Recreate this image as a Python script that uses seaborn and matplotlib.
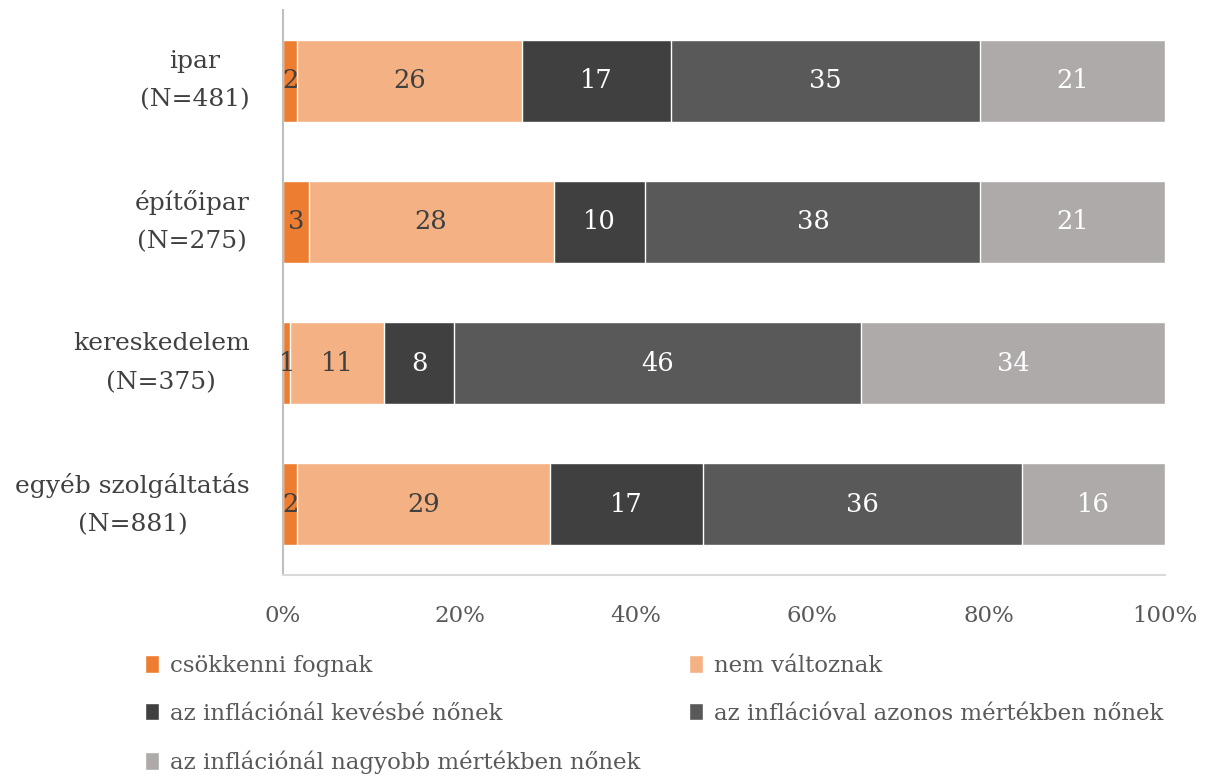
import numpy as np
import pandas as pd
import seaborn as sns
from matplotlib import pyplot as plt
from matplotlib.patches import Patch

# categories (y axis) and series
categories = ['ipar\n(N=481)', 'építőipar\n(N=275)', 'kereskedelem\n(N=375)',
              'egyéb szolgáltatás\n(N=881)']
series_names = ['csökkenni fognak', 'nem változnak', 'az inflációnál kevésbé nőnek',
                'az inflációval azonos mértékben nőnek',
                'az inflációnál nagyobb mértékben nőnek']

# shares in percent
csokken = [1.6, 2.9, 0.8, 1.6]
nem_valt = [25.5, 27.8, 10.7, 28.7]
kevesbe = [16.9, 10.4, 7.9, 17.3]
azonos = [35.0, 38.0, 46.2, 36.2]
nagyobb = [21.0, 20.9, 34.4, 16.2]

# the rounded numbers written on the bars
labels_csokken = [2, 3, 1, 2]
labels_nem_valt = [26, 28, 11, 29]
labels_kevesbe = [17, 10, 8, 17]
labels_azonos = [35, 38, 46, 36]
labels_nagyobb = [21, 21, 34, 16]

colors = ['#ED7D31', '#F4B183', '#404040', '#595959', '#AEAAAA']
text_colors = ['#404040', '#404040', 'white', 'white', 'white']

sns.set_style('white')
plt.rcParams['font.family'] = ['DejaVu Serif']

values = np.array([csokken, nem_valt, kevesbe, azonos, nagyobb])
values = values / values.sum(axis=0) * 100
labels = [labels_csokken, labels_nem_valt, labels_kevesbe, labels_azonos, labels_nagyobb]
cum = values.cumsum(axis=0)

df = pd.DataFrame(cum.T, columns=series_names)
df['kat'] = categories

fig, ax = plt.subplots(figsize=(12.07, 7.78), dpi=100)
fig.subplots_adjust(left=0.2345, right=0.965, top=0.987, bottom=0.261)

# draw cumulative sums from the back so the layers stack
for i in range(len(series_names) - 1, -1, -1):
    sns.barplot(data=df, x=series_names[i], y='kat', color=colors[i],
                orient='h', width=0.58, saturation=1, ax=ax)

for i in range(len(series_names)):
    for j in range(len(categories)):
        center = cum[i, j] - values[i, j] / 2
        ax.text(center, j, str(labels[i][j]), ha='center', va='center',
                fontsize=18.5, color=text_colors[i])

ax.set_xlim(0, 100)
ax.set_ylim(3.5, -0.5)
ax.set_xlabel('')
ax.set_ylabel('')
ax.set_xticks([0, 20, 40, 60, 80, 100])
ax.set_xticklabels(['0%', '20%', '40%', '60%', '80%', '100%'])
ax.tick_params(axis='x', labelsize=16.5, labelcolor='#595959', pad=22, length=0)
ax.tick_params(axis='y', length=0, pad=24)
for lbl in ax.get_yticklabels():
    lbl.set_fontsize(18)
    lbl.set_color('#404040')
    lbl.set_multialignment('center')
    lbl.set_linespacing(1.85)
    lbl.set_verticalalignment('center')

for side in ['top', 'right']:
    ax.spines[side].set_visible(False)
ax.spines['left'].set_color('#BFBFBF')
ax.spines['bottom'].set_color('#D9D9D9')
ax.spines['left'].set_linewidth(1.5)
ax.spines['bottom'].set_linewidth(1.5)

handles = [Patch(facecolor=c, label=n) for c, n in zip(colors, series_names)]
order = [0, 2, 4, 1, 3]
leg = fig.legend([handles[k] for k in order], [series_names[k] for k in order],
                 ncol=2, loc='lower left', bbox_to_anchor=(0.103, -0.021, 0.8783, 0.18),
                 mode='expand', frameon=False, fontsize=16.5, handlelength=0.6,
                 handleheight=0.8, handletextpad=0.5, labelspacing=1.12)
for t in leg.get_texts():
    t.set_color('#595959')

plt.savefig('out.png', dpi=100)
